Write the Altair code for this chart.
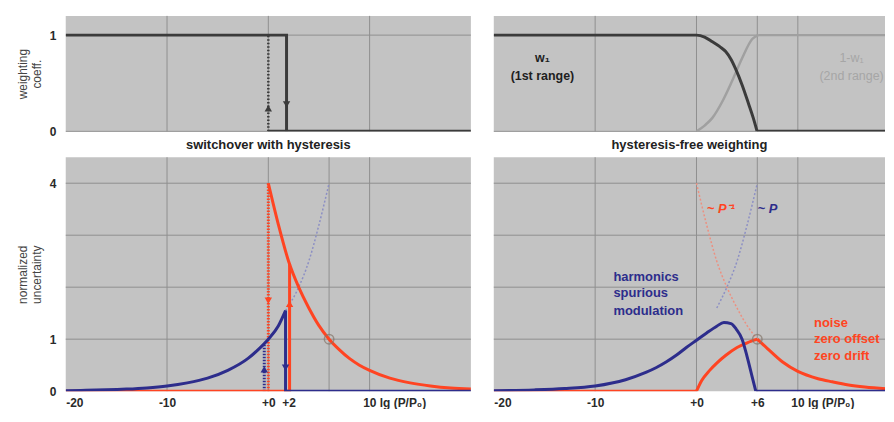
import altair as alt
import pandas as pd

# ---------------- data ----------------
# top-left panel: switchover with hysteresis (weighting coefficient)
wh_upper_x = [-20, 1.8, 1.8]
wh_upper_y = [1, 1, 0]
wh_lower_x = [0, 20]
wh_lower_y = [0, 0]
wh_dot_x = [0, 0]
wh_dot_y = [0, 1]
wh_up_x, wh_up_y = [0], [0.24]
wh_down_x, wh_down_y = [1.8], [0.28]

# bottom-left panel: normalized uncertainty with hysteresis
bh_blue_x = [-20, -18, -16, -14, -12, -10, -8, -6, -4, -2, -1, 0, 1, 1.7]
bh_blue_y = [0.01, 0.016, 0.025, 0.04, 0.063, 0.1, 0.16, 0.25, 0.4, 0.63, 0.8, 1.0, 1.26, 1.55]
bh_blue_drop_x = [1.7, 1.7, 20]
bh_blue_drop_y = [1.55, 0, 0]
bh_blue_dot_x = [-0.4, -0.4]
bh_blue_dot_y = [0, 0.91]
bh_blue_faint_x = [1.7, 3, 4, 5, 6]
bh_blue_faint_y = [1.55, 2.0, 2.5, 3.2, 4.0]
bh_red_base_x = [-20, 2.1, 2.1]
bh_red_base_y = [0, 0, 2.45]
bh_red_x = [0, 1, 2, 3, 4, 5, 6, 7, 8, 9, 10, 12, 14, 16, 18, 20]
bh_red_y = [4.0, 3.2, 2.5, 2.0, 1.6, 1.26, 1.0, 0.8, 0.63, 0.5, 0.4, 0.25, 0.16, 0.1, 0.06, 0.04]
bh_red_dot_x = [0, 0]
bh_red_dot_y = [0, 4]
bh_arrow_up_x = [-0.4, 2.1]
bh_arrow_up_y = [0.42, 1.68]
bh_arrow_up_c = ["blue", "red"]
bh_arrow_down_x = [1.7, 0]
bh_arrow_down_y = [0.45, 1.74]
bh_arrow_down_c = ["blue", "red"]

# top-right panel: hysteresis-free weighting
wf_w1_x = [-20, 0, 0.8, 1.57, 2.3, 2.88, 3.4, 3.86, 4.51, 5.16, 5.6, 5.98]
wf_w1_y = [1, 1, 0.98, 0.93, 0.88, 0.83, 0.75, 0.65, 0.48, 0.28, 0.14, 0]
wf_w1_base_x = [5.98, 20]
wf_w1_base_y = [0, 0]
wf_w2_x = [0, 0.8, 1.57, 2.55, 3.5, 4.5, 5.5, 6.1]
wf_w2_y = [0, 0.06, 0.14, 0.31, 0.52, 0.76, 0.96, 1.0]
wf_w2_top_x = [6.1, 20]
wf_w2_top_y = [1, 1]

# bottom-right panel: uncertainty with hysteresis-free weighting
bf_blue_x = [-20, -16, -13, -10, -7, -5, -4, -3, -2, -1, 0, 1, 2, 2.7, 3.4, 3.9, 4.5, 5.0, 5.5, 5.85]
bf_blue_y = [0.01, 0.025, 0.05, 0.1, 0.22, 0.36, 0.45, 0.56, 0.69, 0.84, 0.98, 1.12, 1.25, 1.32, 1.3, 1.2, 1.0, 0.66, 0.27, 0.0]
bf_blue_base_x = [5.85, 20]
bf_blue_base_y = [0, 0]
bf_red_base_x = [-20, 0]
bf_red_base_y = [0, 0]
bf_red_rise_x = [0, 0.5, 1.3, 2, 2.9, 4, 5, 6]
bf_red_rise_y = [0, 0.2, 0.4, 0.54, 0.69, 0.84, 0.93, 1.0]
bf_red_fall_x = [6, 7, 8.5, 10, 12, 13.4, 15, 16.6, 19.3]
bf_red_fall_y = [1.0, 0.82, 0.56, 0.38, 0.24, 0.18, 0.12, 0.08, 0.04]
bf_red_faint_x = [0, 1, 2, 3, 4, 5, 6]
bf_red_faint_y = [4.0, 3.2, 2.5, 2.0, 1.6, 1.26, 1.0]
bf_blue_faint_x = [2, 3, 4, 5, 6]
bf_blue_faint_y = [1.6, 2.0, 2.5, 3.2, 4.0]

ref_point_x, ref_point_y = [6], [1]

# grid lines
grid_top_left = [-10, 0, 10]
grid_bottom = [-10, 0, 6, 10]
grid_h_top = [0, 1]
grid_h_bottom = [1, 2, 3, 4]

# tick labels
ticks_left = [-20, -10, 0, 2, 10]
ticks_right = [-20, -10, 0, 6, 10]
y_ticks_top = [0, 1]
y_ticks_bottom = [0, 1, 4]

# annotations
ann_tr_text = ["w₁", "(1st range)", "1-w₁", "(2nd range)"]
ann_tr_x = [-15.2, -15.2, 15.3, 15.3]
ann_tr_y = [0.76, 0.58, 0.76, 0.58]
ann_tr_c = ["#1e1e1e", "#1e1e1e", "#a6a6a6", "#a6a6a6"]

ann_br_text = ["~ P⁻¹", "~ P"]
ann_br_x = [2.4, 7.0]
ann_br_y = [3.5, 3.5]
ann_br_c = ["red", "blue"]

ann_harm_text = ["harmonics", "spurious", "modulation"]
ann_harm_x = [-8.2, -8.2, -8.2]
ann_harm_y = [2.2, 1.88, 1.55]
ann_noise_text = ["noise", "zero offset", "zero drift"]
ann_noise_x = [11.6, 11.6, 11.6]
ann_noise_y = [1.32, 1.0, 0.67]

# ---------------- styling ----------------
FONT = "Liberation Sans"
BG = "#c3c3c3"
GRID = "#8f8f8f"
NAVY = "#2d2d8c"
RED = "#ff4422"
DARK = "#3b3b3b"
LIGHT = "#a0a0a0"
FAINT_BLUE = "#8c8fc4"
FAINT_RED = "#ec9080"
COLMAP = {"blue": NAVY, "red": RED}


def frame(xs, ys, **extra):
    d = {"x": xs, "y": ys, "i": list(range(len(xs)))}
    d.update(extra)
    return pd.DataFrame(d)


def make_panel(xdom, ydom, xaxis, yaxis):
    X = alt.X("x:Q", scale=alt.Scale(domain=xdom, nice=False, zero=False), axis=xaxis, title=None)
    Y = alt.Y("y:Q", scale=alt.Scale(domain=ydom, nice=False, zero=False), axis=yaxis, title=None)

    def line(xs, ys, color, width_=3, dash=None, interp="linear", opacity=1.0):
        kw = dict(color=color, strokeWidth=width_, interpolate=interp, opacity=opacity, clip=True)
        if dash:
            kw["strokeDash"] = dash
        return alt.Chart(frame(xs, ys)).mark_line(**kw).encode(x=X, y=Y, order="i:Q")

    def vgrid(vals):
        return alt.Chart(pd.DataFrame({"x": vals})).mark_rule(color=GRID, strokeWidth=1).encode(x=X)

    def hgrid(vals):
        return alt.Chart(pd.DataFrame({"y": vals})).mark_rule(color=GRID, strokeWidth=1).encode(y=Y)

    def arrows(xs, ys, colors, shape):
        d = frame(xs, ys, c=[COLMAP.get(c, c) for c in colors])
        return alt.Chart(d).mark_point(shape=shape, filled=True, size=55, opacity=1).encode(
            x=X, y=Y, color=alt.Color("c:N", scale=None))

    def texts(xs, ys, labels, colors, size=13, weight="bold", align="left", style="normal"):
        d = frame(xs, ys, t=labels, c=[COLMAP.get(c, c) for c in colors])
        return alt.Chart(d).mark_text(font=FONT, fontSize=size, fontWeight=weight, align=align,
                                      baseline="middle", fontStyle=style).encode(
            x=X, y=Y, text="t:N", color=alt.Color("c:N", scale=None))

    def circle(xs, ys):
        return alt.Chart(frame(xs, ys)).mark_point(shape="circle", filled=False, size=90,
                                                   color="#85766a", strokeWidth=1.5).encode(x=X, y=Y)

    return dict(line=line, vgrid=vgrid, hgrid=hgrid, arrows=arrows, texts=texts, circle=circle)


label_font = dict(labelFont=FONT, labelFontSize=12, labelFontWeight="bold", labelColor="#2a2a2a")
ytitle = dict(titlePadding=6, titleFontSize=12, titleFontWeight="normal", titleColor="#444444",
              titleFont=FONT, titleLineHeight=14)

yaxis_top = alt.Axis(values=y_ticks_top, format="d", title=["weighting", "coeff."], labelPadding=10,
                     **ytitle, **label_font)
yaxis_bot = alt.Axis(values=y_ticks_bottom, format="d", title=["normalized", "uncertainty"], labelPadding=10,
                     **ytitle, **label_font)

label_expr = ("datum.value == 0 ? '+0' : datum.value == 2 ? '+2' : datum.value == 6 ? '+6' : "
              "datum.value == 10 ? '10 lg (P/P₀)' : datum.value == -20 ? '-20' : datum.value == -10 ? '-10' : datum.label")
xlab_align = {"condition": {"test": "datum.value == -20 || datum.value == 10", "value": "left"}, "value": "center"}
xlab_off = {"condition": {"test": "datum.value == 10", "value": -7}, "value": 0}
xaxis_left = alt.Axis(values=ticks_left, labelExpr=label_expr, labelPadding=6,
                      labelAlign=xlab_align, labelOffset=xlab_off, **label_font)
xaxis_right = alt.Axis(values=ticks_right, labelExpr=label_expr, labelPadding=6,
                       labelAlign=xlab_align, labelOffset=xlab_off, **label_font)

W_L, W_R = 407, 393
H_T, H_B = 116, 235
XDOM_L = [-20, 20]
XDOM_R = [-20, 18.6]

# ---- top-left
p = make_panel(XDOM_L, [0, 1.2], None, yaxis_top)
top_left = alt.layer(
    p["vgrid"](grid_top_left),
    p["hgrid"](grid_h_top),
    p["line"](wh_dot_x, wh_dot_y, DARK, 2.5, dash=[1.5, 2]),
    p["line"](wh_upper_x, wh_upper_y, DARK, 3),
    p["line"](wh_lower_x, wh_lower_y, DARK, 3),
    p["arrows"](wh_up_x, wh_up_y, [DARK], "triangle-up"),
    p["arrows"](wh_down_x, wh_down_y, [DARK], "triangle-down"),
).properties(width=W_L, height=H_T)

# ---- bottom-left
p = make_panel(XDOM_L, [0, 4.5], xaxis_left, yaxis_bot)
bottom_left = alt.layer(
    p["vgrid"](grid_bottom),
    p["hgrid"](grid_h_bottom),
    p["line"](bh_blue_faint_x, bh_blue_faint_y, FAINT_BLUE, 1.5, dash=[2, 2], interp="monotone"),
    p["line"](bh_red_dot_x, bh_red_dot_y, RED, 3, dash=[1.5, 1.5]),
    p["line"](bh_blue_dot_x, bh_blue_dot_y, NAVY, 3, dash=[1.5, 1.5]),
    p["line"](bh_red_base_x, bh_red_base_y, RED, 3),
    p["line"](bh_red_x, bh_red_y, RED, 3, interp="monotone"),
    p["line"](bh_blue_drop_x, bh_blue_drop_y, NAVY, 3),
    p["line"](bh_blue_x, bh_blue_y, NAVY, 3, interp="monotone"),
    p["circle"](ref_point_x, ref_point_y),
    p["arrows"](bh_arrow_up_x, bh_arrow_up_y, bh_arrow_up_c, "triangle-up"),
    p["arrows"](bh_arrow_down_x, bh_arrow_down_y, bh_arrow_down_c, "triangle-down"),
).properties(
    width=W_L, height=H_B,
    title=alt.TitleParams("switchover with hysteresis", font=FONT, fontSize=13, fontWeight="bold",
                          color="#222222", offset=5))

# ---- top-right
p = make_panel(XDOM_R, [0, 1.2], None, None)
top_right = alt.layer(
    p["vgrid"](grid_bottom),
    p["hgrid"](grid_h_top),
    p["line"](wf_w2_x, wf_w2_y, LIGHT, 2.5, interp="monotone"),
    p["line"](wf_w2_top_x, wf_w2_top_y, LIGHT, 2.5),
    p["line"](wf_w1_x, wf_w1_y, DARK, 3, interp="monotone"),
    p["line"](wf_w1_base_x, wf_w1_base_y, DARK, 3),
    p["texts"](ann_tr_x[:2], ann_tr_y[:2], ann_tr_text[:2], ann_tr_c[:2], size=12.5, align="center"),
    p["texts"](ann_tr_x[2:], ann_tr_y[2:], ann_tr_text[2:], ann_tr_c[2:], size=12.5, weight="normal", align="center"),
).properties(width=W_R, height=H_T)

# ---- bottom-right
p = make_panel(XDOM_R, [0, 4.5], xaxis_right, None)
bottom_right = alt.layer(
    p["vgrid"](grid_bottom),
    p["hgrid"](grid_h_bottom),
    p["line"](bf_red_faint_x, bf_red_faint_y, FAINT_RED, 1.5, dash=[2, 2], interp="monotone"),
    p["line"](bf_blue_faint_x, bf_blue_faint_y, FAINT_BLUE, 1.5, dash=[2, 2], interp="monotone"),
    p["line"](bf_red_base_x, bf_red_base_y, RED, 3),
    p["line"](bf_red_rise_x, bf_red_rise_y, RED, 3, interp="monotone"),
    p["line"](bf_red_fall_x, bf_red_fall_y, RED, 3, interp="monotone"),
    p["line"](bf_blue_base_x, bf_blue_base_y, NAVY, 3),
    p["line"](bf_blue_x, bf_blue_y, NAVY, 3, interp="monotone"),
    p["circle"](ref_point_x, ref_point_y),
    p["texts"](ann_br_x, ann_br_y, ann_br_text, ann_br_c, size=13, align="center", style="italic"),
    p["texts"](ann_harm_x, ann_harm_y, ann_harm_text, ["blue"] * 3, size=13),
    p["texts"](ann_noise_x, ann_noise_y, ann_noise_text, ["red"] * 3, size=13),
).properties(
    width=W_R, height=H_B,
    title=alt.TitleParams("hysteresis-free weighting", font=FONT, fontSize=13, fontWeight="bold",
                          color="#222222", offset=5))

top_row = alt.hconcat(top_left, top_right, spacing=21)
bottom_row = alt.hconcat(bottom_left, bottom_right, spacing=21)

chart = alt.vconcat(top_row, bottom_row, spacing=1).properties(
    padding={"left": 8, "top": 6, "right": 0, "bottom": 0},
    background="white",
).configure_view(fill=BG, stroke=None).configure_axis(
    domain=False, ticks=False, grid=False
)

chart.save("out.html", embed_options={"renderer": "svg", "actions": False})
